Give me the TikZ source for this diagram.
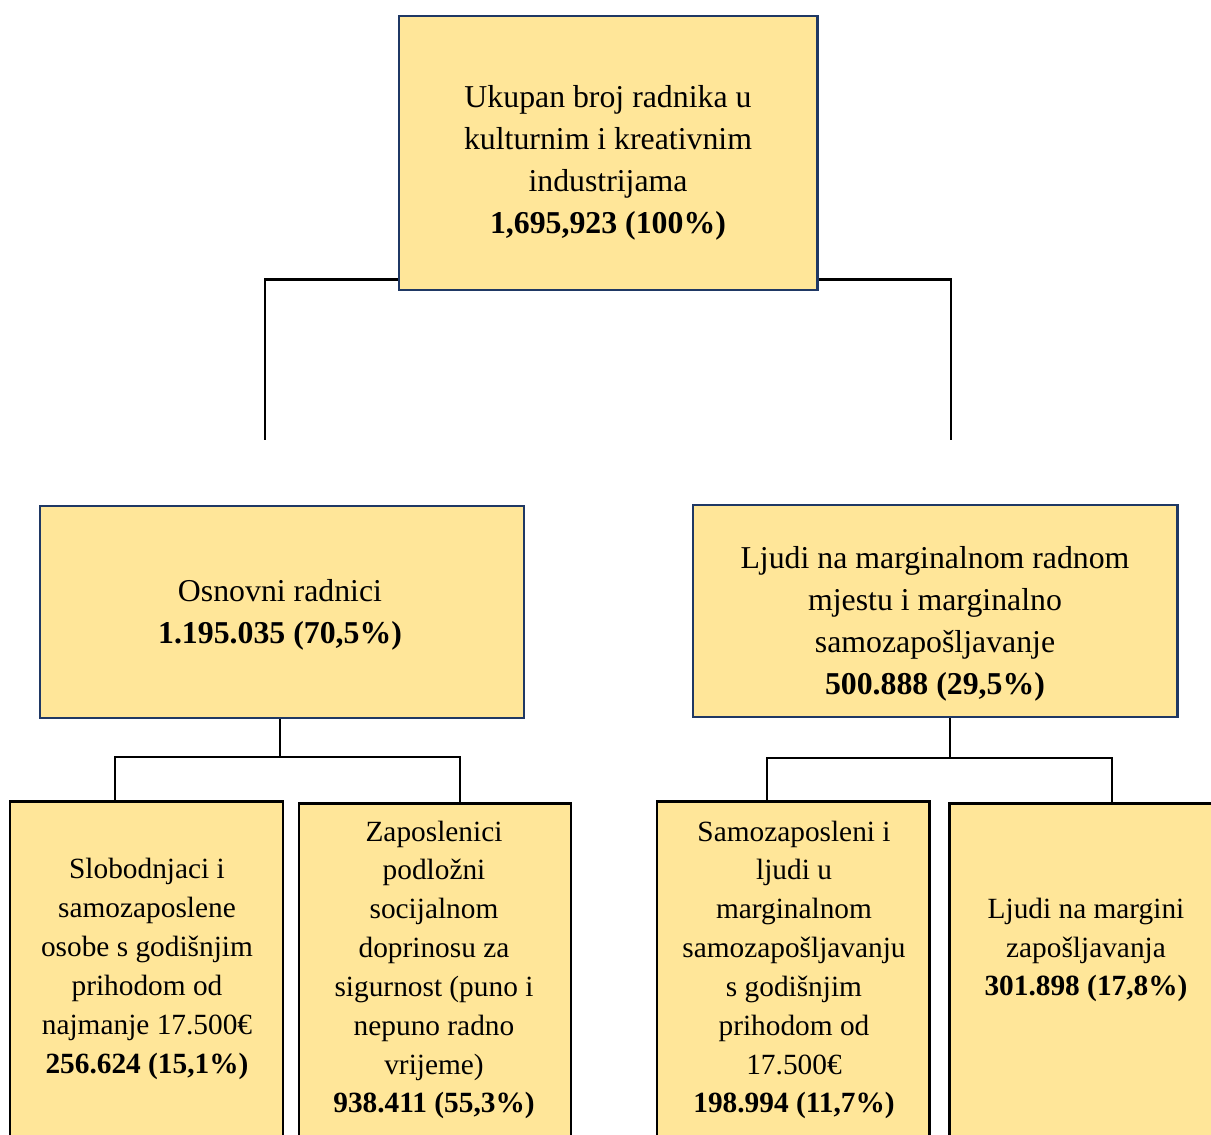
\documentclass[tikz,border=0pt]{standalone}
\usepackage{fontspec}
\setmainfont{Liberation Serif}
\usepackage{tikz}
\usepackage{xcolor}
\usetikzlibrary{positioning, calc}
\definecolor{cFill}{RGB}{255,230,153}
\definecolor{cNavy}{RGB}{31,56,100}
\tikzset{
	headbox/.style={rectangle, draw=cNavy, line width=1.7pt, fill=cFill, inner sep=0pt},
	leafbox/.style={rectangle, draw=black, line width=1.7pt, fill=cFill, inner sep=0pt, minimum height=420*0.02cm, anchor=north},
	lbl/.style     ={align=center, inner sep=0pt, font=\fontsize{18.1}{23.8}\selectfont},
	leaflbl/.style ={align=center, inner sep=0pt, font=\fontsize{16.7}{22.1}\selectfont},
	link/.style    ={draw=black, line width=1.4pt},
}

\begin{document}
\begin{tikzpicture}[x=0.02cm, y=-0.02cm]
	\useasboundingbox (0,0) rectangle (1211,1135);
	\clip (0,0) rectangle (1211,1135);
	% top level
	\node[headbox, minimum width=418*0.02cm, minimum height=274*0.02cm] (top) at (608,153) {};
	\node[lbl] (topT) at (608,163) {Ukupan broj radnika u\\kulturnim i kreativnim\\industrijama\\\textbf{1,695,923 (100\%)}};
	% second level
	\node[headbox, minimum width=484*0.02cm, minimum height=212*0.02cm] (midL) at (282,612) {};
	\node[lbl] (midLT) at (280,615) {Osnovni radnici\\\textbf{1.195.035 (70,5\%)}};
	\node[headbox, minimum width=484*0.02cm, minimum height=212*0.02cm] (midR) at (935,611) {};
	\node[lbl] (midRT) at (935,624) {Ljudi na marginalnom radnom\\mjestu i marginalno\\samozapošljavanje\\\textbf{500.888 (29,5\%)}};
	% third level
	\node[leafbox, minimum width=273*0.02cm] (b1) at (146.5,800) {};
	\node[leafbox, minimum width=272*0.02cm] (b2) at (435,802) {};
	\node[leafbox, minimum width=272*0.02cm] (b3) at (793,800) {};
	\node[leafbox, minimum width=274*0.02cm] (b4) at (1086,802) {};
	\node[leaflbl] (b1T) at (147,969) {Slobodnjaci i\\samozaposlene\\osobe s godišnjim\\prihodom od\\najmanje 17.500€\\\textbf{256.624 (15,1\%)}};
	\node[leaflbl] (b2T) at (434,970) {Zaposlenici\\podložni\\socijalnom\\doprinosu za\\sigurnost (puno i\\nepuno radno\\vrijeme)\\\textbf{938.411 (55,3\%)}};
	\node[leaflbl] (b3T) at (794,970) {Samozaposleni i\\ljudi u\\marginalnom\\samozapošljavanju\\s godišnjim\\prihodom od\\17.500€\\\textbf{198.994 (11,7\%)}};
	\node[leaflbl] (b4T) at (1086,950) {Ljudi na margini\\zapošljavanja\\\textbf{301.898 (17,8\%)}};
	% connectors
	\coordinate (endL) at (265,440);
	\coordinate (endR) at (951,440);
	\draw[link] ($(top.south west)+(0,-12)$) -| (endL);
	\draw[link] ($(top.south east)+(0,-12)$) -| (endR);
	\coordinate (jL) at (280,757);
	\coordinate (jR) at (950,758);
	\draw[link] (midL.south -| jL) -- (jL);
	\draw[link] ($(b1.north)+(-31.5,0)$) |- (jL) -| ($(b2.north)+(25,0)$);
	\draw[link] (midR.south -| jR) -- (jR);
	\draw[link] ($(b3.north)+(-26,0)$) |- (jR) -| ($(b4.north)+(26,0)$);
\end{tikzpicture}
\end{document}
